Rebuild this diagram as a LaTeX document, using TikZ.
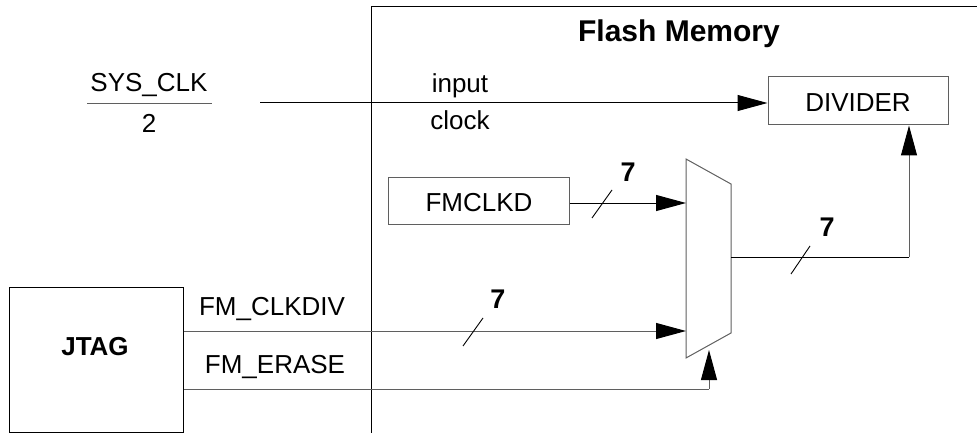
\documentclass[tikz,border=0pt]{standalone}
\usepackage{fontspec}
\setmainfont{Liberation Sans}
\usetikzlibrary{arrows.meta}
\definecolor{edgegray}{RGB}{95,95,95}
\begin{document}
\begin{tikzpicture}[x=1pt,y=-1pt,
  line width=1pt,
  txt/.style={anchor=base,inner sep=0pt,font=\fontsize{26}{30}\selectfont},
  btxt/.style={anchor=base,inner sep=0pt,font=\fontsize{27}{30}\selectfont\bfseries},
  boxnode/.style={draw=edgegray,inner sep=0pt,font=\fontsize{26}{30}\selectfont},
  sig/.style={draw=black},
  gsig/.style={draw=edgegray},
  arr/.style={-{Triangle[length=30pt,width=16pt,color=black]}},
  slash/.style={draw=black,line width=0.9pt}]
\useasboundingbox (0,0) rectangle (977,433);

% Flash memory boundary
\draw[black] (371,433) -- (371,7) -- (977,7);
\node[anchor=base,inner sep=0pt,font=\fontsize{30}{34}\selectfont\bfseries] (title) at (679,42) {Flash Memory};

% SYS_CLK / 2
\node[txt] (sysclk) at (149,92) {SYS\_CLK};
\node[txt] (two) at (149,133) {2};
\draw[edgegray] (87,103.5) -- (212,103.5);

% boxes
\node[boxnode,minimum width=180pt,minimum height=48pt] (div) at (858,101) {};
\node[txt] (divtxt) at (858,112) {DIVIDER};
\node[boxnode,minimum width=181pt,minimum height=47pt] (fmclkd) at (478.5,200.5) {};
\node[txt] (fmclkdtxt) at (479,211) {FMCLKD};
\node[boxnode,draw=black,minimum width=174pt,minimum height=145pt] (jtag) at (96,359.5) {};
\node[btxt,font=\fontsize{26}{30}\selectfont\bfseries] (jtagtxt) at (95,355) {JTAG};

% mux
\draw[edgegray] (686,159) -- (731,184) -- (731,333) -- (686,358) -- cycle;
\coordinate (clkin) at (686,203);
\coordinate (divin) at (686,331);
\coordinate (erasein) at (709,350);
\coordinate (erasecorner) at (709,389);
\coordinate (muxout) at (731,257);
\coordinate (outcorner) at (909,257);
\coordinate (sysin) at (260,103);

% connectors
\draw[sig,arr] (sysin) -- (sysin -| div.west);
\draw[sig,arr] (fmclkd.east |- clkin) -- (clkin);
\draw[gsig,arr] (jtag.east |- divin) -- (divin);
\draw[gsig] (jtag.east |- erasecorner) -- (erasecorner);
\draw[gsig,arr] (erasecorner) -- (erasein);
\draw[sig] (muxout) -- (outcorner);
\draw[gsig,arr] (outcorner) -- (outcorner |- div.south);

% signal labels
\node[txt] (input) at (460,93) {input};
\node[txt] (clock) at (460,130) {clock};
\node[txt] (clkdiv) at (272,315) {FM\_CLKDIV};
\node[txt] (erase) at (275,373) {FM\_ERASE};

% bus widths
\draw[slash] (592,218) -- (612,190);
\node[btxt] (w1) at (628,181) {7};
\draw[slash] (791,274) -- (810,246);
\node[btxt] (w2) at (827,236) {7};
\draw[slash] (463,346) -- (483,318);
\node[btxt] (w3) at (498,308) {7};
\end{tikzpicture}
\end{document}
